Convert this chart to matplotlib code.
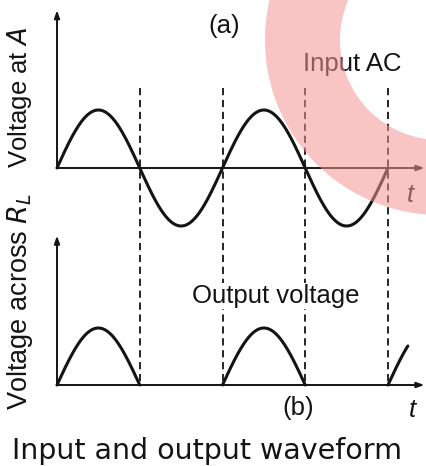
import numpy as np
import matplotlib
matplotlib.use("Agg")
import matplotlib.pyplot as plt
from matplotlib.patches import Wedge

# ---- data (in periods of the input AC) ----
amplitude = 1.0
n_periods_input = 2.0          # input sine drawn over 2 full periods
half_period_marks = [0.5, 1.0, 1.5, 2.0]   # dashed guide lines
output_humps = [(0.0, 0.5), (1.0, 1.5), (2.0, 2.12)]  # conducting half-cycles
t_axis_end = 2.22
labels = {"top_y": "Voltage at $\\mathit{A}$", "bot_y": "Voltage across $R_L$",
          "top_tag": "(a)", "bot_tag": "(b)", "top_name": "Input AC",
          "bot_name": "Output voltage", "title": "Input and output waveform"}

W, H = 426, 466
fig = plt.figure(figsize=(W / 100, H / 100), dpi=100)
plt.rcParams['font.family'] = ['Liberation Sans', 'DejaVu Sans']

# pixel mapping constants (layout only)
x0, px_per_period = 57, 165.5
top_axis_y, top_scale = 168, 58
bot_axis_y, bot_scale = 385, 57

xlim = (-x0 / px_per_period, (W - x0) / px_per_period)
ax_top = fig.add_axes([0, 0, 1, 1])
ax_top.set_xlim(*xlim)
ax_top.set_ylim((top_axis_y - H) / top_scale, top_axis_y / top_scale)
ax_bot = fig.add_axes([0, 0, 1, 1])
ax_bot.set_xlim(*xlim)
ax_bot.set_ylim((bot_axis_y - H) / bot_scale, bot_axis_y / bot_scale)
ax_px = fig.add_axes([0, 0, 1, 1])
ax_px.set_xlim(0, W)
ax_px.set_ylim(H, 0)
for a in (ax_top, ax_bot, ax_px):
    a.axis('off')
    a.patch.set_alpha(0)

ink = '#141414'
lw_curve, lw_axis = 2.2, 1.4

# --- axes with arrows ---
arrow_kw = dict(arrowstyle='-|>,head_length=0.45,head_width=0.16', color=ink, lw=lw_axis,
                shrinkA=0, shrinkB=0)
ax_top.annotate('', xy=(t_axis_end, 0), xytext=(0, 0), arrowprops=arrow_kw)
ax_top.annotate('', xy=(0, 2.72), xytext=(0, 0), arrowprops=arrow_kw)
ax_bot.annotate('', xy=(t_axis_end, 0), xytext=(0, 0), arrowprops=arrow_kw)
ax_bot.annotate('', xy=(0, 2.62), xytext=(0, 0), arrowprops=arrow_kw)

# --- input sine ---
t = np.linspace(0, n_periods_input, 600)
ax_top.plot(t, amplitude * np.sin(2 * np.pi * t), color=ink, lw=lw_curve,
            solid_capstyle='round')

# --- output half-wave ---
for (a, b) in output_humps:
    tt = np.linspace(a, b, 200)
    ax_bot.plot(tt, amplitude * np.sin(2 * np.pi * tt), color=ink, lw=lw_curve,
                solid_capstyle='round')

# --- dashed guide lines (from top panel down to the bottom axis) ---
for m in half_period_marks:
    ax_px.plot([x0 + m * px_per_period] * 2, [88, bot_axis_y], color=ink, lw=1.3,
               ls=(0, (4, 2.6)), zorder=1)

# --- texts ---
fs = 18.5
ax_px.text(224, 26, labels["top_tag"], fontsize=fs, ha='center', va='center', color=ink)
ax_px.text(352, 64, labels["top_name"], fontsize=fs, ha='center', va='center', color=ink)
ax_px.text(276, 296, labels["bot_name"], fontsize=fs, ha='center', va='center', color=ink,
           bbox=dict(facecolor='white', edgecolor='none', pad=1), zorder=3)
ax_px.text(298, 408, labels["bot_tag"], fontsize=fs, ha='center', va='center', color=ink)
ax_px.text(410, 195, 't', fontsize=fs, ha='center', va='center', color=ink, style='italic')
ax_px.text(412, 410, 't', fontsize=fs, ha='center', va='center', color=ink, style='italic')
ax_px.text(19, 98, labels["top_y"], fontsize=fs, ha='center', va='center', color=ink,
           rotation=90)
ax_px.text(20, 301, labels["bot_y"], fontsize=19.5, ha='center', va='center', color=ink,
           rotation=90)
ax_px.text(207, 451, labels["title"], fontsize=20.5, ha='center', va='center', color=ink,
           family='DejaVu Sans')

# --- pink watermark ring ---
ring = Wedge((440, 40), 175, 0, 360, width=75, facecolor=(244/255, 148/255, 148/255),
             edgecolor='none', alpha=0.55, zorder=5)
ax_px.add_patch(ring)

fig.savefig('out.png', dpi=100)
